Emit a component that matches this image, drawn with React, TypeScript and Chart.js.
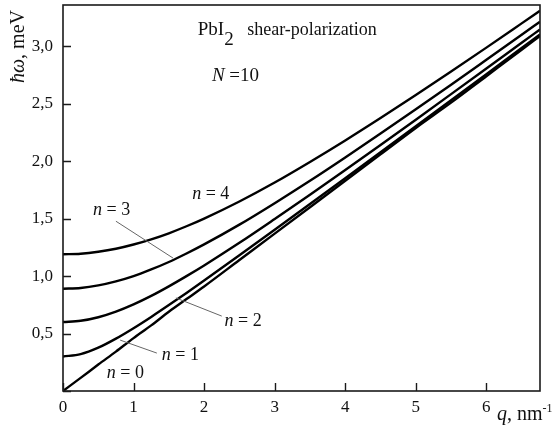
import React, { useEffect, useRef } from 'react';
import { Chart, registerables } from 'chart.js';

Chart.register(...registerables);

// Wave vector q, nm^-1
const qValues = [0, 0.25, 0.5, 0.75, 1, 1.25, 1.5, 1.75, 2, 2.5, 3, 3.5, 4, 4.5, 5, 5.5, 6, 6.5, 6.76];
// Energy ħω, meV, for the branches n = 0..4
const energyN0 = [0, 0.114, 0.23, 0.343, 0.46, 0.571, 0.69, 0.8, 0.91, 1.14, 1.37, 1.6, 1.83, 2.06, 2.29, 2.51, 2.74, 2.97, 3.09];
const energyN1 = [0.3, 0.321, 0.377, 0.456, 0.547, 0.645, 0.748, 0.854, 0.962, 1.181, 1.403, 1.627, 1.852, 2.078, 2.305, 2.531, 2.758, 2.986, 3.104];
const energyN2 = [0.6, 0.611, 0.642, 0.691, 0.754, 0.828, 0.911, 1.0, 1.093, 1.29, 1.497, 1.708, 1.924, 2.142, 2.362, 2.584, 2.807, 3.031, 3.147];
const energyN3 = [0.89, 0.897, 0.919, 0.954, 1.0, 1.058, 1.123, 1.197, 1.276, 1.448, 1.635, 1.83, 2.033, 2.241, 2.452, 2.666, 2.883, 3.101, 3.215];
const energyN4 = [1.19, 1.195, 1.212, 1.238, 1.275, 1.32, 1.373, 1.434, 1.501, 1.65, 1.815, 1.994, 2.181, 2.376, 2.576, 2.781, 2.989, 3.2, 3.31];
const seriesList = [energyN0, energyN1, energyN2, energyN3, energyN4];

// Axis ranges and ticks
const xMin = 0;
const xMax = 6.76;
const xStep = 1;
const yMin = 0;
const yMax = 3.36;
const yStep = 0.5;

// Texts
const titleMain = 'PbI';
const titleSub = '2';
const titleRest = '   shear-polarization';
const layersSymbol = 'N';
const layersValue = ' =10';
const branchLabels = ['n = 0', 'n = 1', 'n = 2', 'n = 3', 'n = 4'];

const SERIF = '"Liberation Serif", "Times New Roman", serif';

type Run = { text: string; italic?: boolean; size: number; dy?: number };

function drawRuns(ctx: CanvasRenderingContext2D, x: number, y: number, runs: Run[]) {
  let cx = x;
  for (const r of runs) {
    ctx.font = `${r.italic ? 'italic ' : ''}${r.size}px ${SERIF}`;
    ctx.fillText(r.text, cx, y + (r.dy || 0));
    cx += ctx.measureText(r.text).width;
  }
}

const overlayPlugin = {
  id: 'overlay',
  afterDraw(chart: any) {
    const { ctx, chartArea } = chart;
    const xs = chart.scales.x;
    const ys = chart.scales.y;
    const { left, right, top, bottom } = chartArea;
    ctx.save();
    // frame
    ctx.strokeStyle = '#1a1a1a';
    ctx.lineWidth = 1.6;
    ctx.strokeRect(left, top, right - left, bottom - top);
    // inward ticks
    ctx.lineWidth = 1.4;
    ctx.beginPath();
    for (const t of xs.ticks) {
      const px = Math.round(xs.getPixelForValue(t.value)) + 0.5;
      ctx.moveTo(px, bottom);
      ctx.lineTo(px, bottom - 8);
    }
    for (const t of ys.ticks) {
      const py = Math.round(ys.getPixelForValue(t.value)) + 0.5;
      ctx.moveTo(left, py);
      ctx.lineTo(left + 8, py);
    }
    ctx.stroke();

    ctx.fillStyle = '#111';
    ctx.textBaseline = 'alphabetic';
    ctx.textAlign = 'left';
    const X = (v: number) => xs.getPixelForValue(v);
    const Y = (v: number) => ys.getPixelForValue(v);

    // title texts
    drawRuns(ctx, X(1.91), Y(3.096), [
      { text: titleMain, size: 19 },
      { text: titleSub, size: 19, dy: 10 },
      { text: titleRest, size: 18 },
    ]);
    drawRuns(ctx, X(2.11), Y(2.696), [
      { text: layersSymbol, italic: true, size: 19 },
      { text: layersValue, size: 19 },
    ]);

    // branch labels
    const labelPos = [
      [0.62, 0.11],
      [1.4, 0.27],
      [2.29, 0.565],
      [0.425, 1.53],
      [1.83, 1.67],
    ];
    branchLabels.forEach((lab, i) => {
      const [lx, ly] = labelPos[i];
      drawRuns(ctx, X(lx), Y(ly), [
        { text: lab.slice(0, 1), italic: true, size: 18 },
        { text: lab.slice(1), size: 18 },
      ]);
    });

    // leader lines
    const leaders = [
      [0.81, 0.443, 1.33, 0.33],
      [1.6, 0.81, 2.25, 0.652],
      [0.75, 1.478, 1.56, 1.157],
    ];
    ctx.strokeStyle = '#666';
    ctx.lineWidth = 1;
    ctx.beginPath();
    for (const [a, b, c, d] of leaders) {
      ctx.moveTo(X(a), Y(b));
      ctx.lineTo(X(c), Y(d));
    }
    ctx.stroke();

    // axis titles
    drawRuns(ctx, 497, 420, [
      { text: 'q', italic: true, size: 20 },
      { text: ', nm', size: 20 },
      { text: '-1', size: 12, dy: -8 },
    ]);
    ctx.save();
    ctx.translate(24, 83);
    ctx.rotate(-Math.PI / 2);
    drawRuns(ctx, 0, 0, [
      { text: 'ħω', italic: true, size: 20 },
      { text: ', meV', size: 20 },
    ]);
    ctx.restore();

    ctx.restore();
  },
};

export default function App() {
  const canvasRef = useRef<HTMLCanvasElement | null>(null);

  useEffect(() => {
    const canvas = canvasRef.current;
    if (!canvas) return;
    const datasets = seriesList.map((ys) => ({
      data: qValues.map((q, i) => ({ x: q, y: ys[i] })),
      borderColor: '#000',
      borderWidth: 2.4,
      pointRadius: 0,
      fill: false,
      cubicInterpolationMode: 'monotone' as const,
    }));
    const chart = new Chart(canvas, {
      type: 'line',
      data: { datasets },
      options: {
        animation: false,
        responsive: false,
        devicePixelRatio: 1,
        layout: { padding: { top: 5, right: 16, left: 0, bottom: 0 } },
        plugins: { legend: { display: false }, tooltip: { enabled: false } },
        scales: {
          x: {
            type: 'linear',
            min: xMin,
            max: xMax,
            border: { display: false },
            grid: { display: false, drawTicks: false },
            ticks: {
              stepSize: xStep,
              includeBounds: false,
              padding: 6,
              color: '#111',
              font: { family: SERIF, size: 17 },
              maxRotation: 0,
              callback: (v: any) => String(v),
            },
            afterFit: (s: any) => {
              s.height = 41;
              s.paddingLeft = 0;
              s.paddingRight = 0;
            },
          },
          y: {
            type: 'linear',
            min: yMin,
            max: yMax,
            border: { display: false },
            grid: { display: false, drawTicks: false },
            ticks: {
              stepSize: yStep,
              includeBounds: false,
              padding: 10,
              color: '#111',
              font: { family: SERIF, size: 17 },
              callback: (v: any) => (Number(v) === 0 ? '' : Number(v).toFixed(1).replace('.', ',')),
            },
            afterFit: (s: any) => {
              s.width = 63;
              s.paddingTop = 0;
              s.paddingBottom = 0;
            },
          },
        },
      },
      plugins: [overlayPlugin],
    });
    return () => chart.destroy();
  }, []);

  return (
    <div style={{ position: 'absolute', left: 0, top: 0, width: 556, height: 432, background: '#fff' }}>
      <canvas ref={canvasRef} width={556} height={432} style={{ display: 'block' }} />
    </div>
  );
}
